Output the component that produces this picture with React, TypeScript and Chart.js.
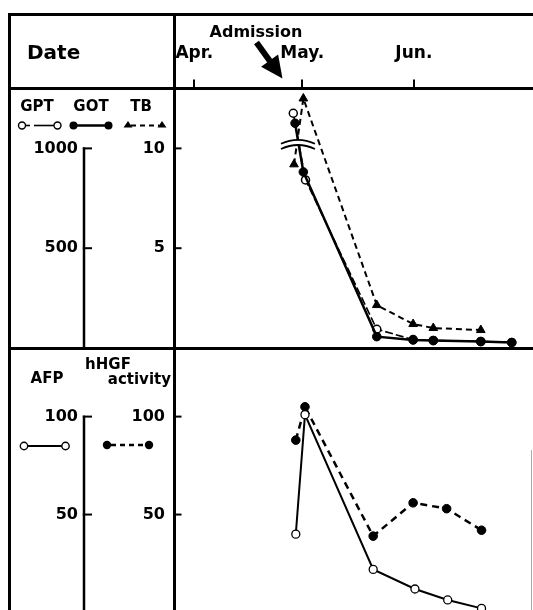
import React, { useEffect, useRef } from 'react';
import { Chart, registerables } from 'chart.js';
Chart.register(...registerables);

const FONT = '"DejaVu Sans", "Liberation Sans", sans-serif';

// x axis: days counted from Apr. 1
const monthLabels = ['Apr.', 'May.', 'Jun.'];
const monthDays = [0, 30, 61];
const xMin = -5.5;
const xMax = 94.1;
const admissionDay = 24.5;

// upper panel (GPT / GOT in IU, TB in mg/dl)
const gptDays = [27.5, 30.9, 50.7, 60.8, 66.4, 79.6, 88.2];
const gptValues = [1176, 842, 94, 42, 38, 33, 28];
const gotDays = [28, 30.3, 50.7, 60.8, 66.4, 79.6, 88.2];
const gotValues = [1126, 882, 57, 40, 37, 32, 27];
const tbDays = [27.7, 30.3, 50.7, 60.8, 66.4, 79.6];
const tbValues = [9.2, 12.5, 2.15, 1.2, 1.0, 0.9];
const gptTicks = [500, 1000];
const tbTicks = [5, 10];
const breakDay = 28.8;
const breakTbValue = 10.2;

// lower panel (AFP, hHGF activity)
const afpDays = [28.2, 30.75, 49.7, 61.3, 70.4, 79.8];
const afpValues = [40, 101, 22, 12, 6.4, 2.1];
const hgfDays = [28.2, 30.75, 49.7, 60.8, 70.1, 79.8];
const hgfValues = [88, 105, 39, 56, 53, 42];
const afpTicks = [50, 100];
const hgfTicks = [50, 100];

const xy = (days: number[], vals: number[]) => days.map((d, i) => ({ x: d, y: vals[i] }));

const tickFont = { family: FONT, size: 16, weight: 'bold' as const };

const noPad = (s: any) => {
  s.paddingTop = 0;
  s.paddingBottom = 0;
  s.paddingLeft = 0;
  s.paddingRight = 0;
};

const axisTicksPlugin = {
  id: 'axisTicks',
  afterDraw(chart: any, _args: any, opts: any) {
    const ctx = chart.ctx;
    const ca = chart.chartArea;
    const outer = chart.scales[opts.outer];
    const inner = chart.scales[opts.inner];
    ctx.save();
    ctx.strokeStyle = '#000';
    const x0 = outer.right;
    const topV = Math.max(...opts.outerTicks);
    ctx.lineWidth = 2.5;
    ctx.beginPath();
    ctx.moveTo(x0, outer.getPixelForValue(topV) - 1);
    ctx.lineTo(x0, chart.height);
    ctx.stroke();
    ctx.lineWidth = 2;
    opts.outerTicks.forEach((v: number) => {
      const y = outer.getPixelForValue(v);
      ctx.beginPath();
      ctx.moveTo(x0 - 1.2, y);
      ctx.lineTo(x0 + 8, y);
      ctx.stroke();
    });
    opts.innerTicks.forEach((v: number) => {
      const y = inner.getPixelForValue(v);
      ctx.beginPath();
      ctx.moveTo(ca.left, y);
      ctx.lineTo(ca.left + 7, y);
      ctx.stroke();
    });
    ctx.restore();
  },
};

const breakPlugin = {
  id: 'breakMark',
  afterDatasetsDraw(chart: any) {
    const ctx = chart.ctx;
    const x = chart.scales.x.getPixelForValue(breakDay);
    const y = chart.scales.tb.getPixelForValue(breakTbValue);
    const arc = (dy: number) => {
      ctx.beginPath();
      ctx.moveTo(x - 17, y + dy + 2);
      ctx.quadraticCurveTo(x, y + dy - 6, x + 17, y + dy + 2);
      ctx.stroke();
    };
    ctx.save();
    ctx.strokeStyle = '#fff';
    ctx.lineWidth = 4.5;
    arc(0);
    ctx.strokeStyle = '#000';
    ctx.lineWidth = 1.8;
    arc(-2.6);
    arc(2.6);
    ctx.restore();
  },
};

const arrowPlugin = {
  id: 'admissionArrow',
  afterDraw(chart: any) {
    const ctx = chart.ctx;
    const tx = chart.scales.x.getPixelForValue(admissionDay);
    const ty = chart.chartArea.top - 10;
    const sx = tx - 26;
    const sy = ty - 36;
    const len = Math.hypot(tx - sx, ty - sy);
    const ux = (tx - sx) / len;
    const uy = (ty - sy) / len;
    const headLen = 22;
    const half = 10.5;
    const bx = tx - ux * headLen;
    const by = ty - uy * headLen;
    ctx.save();
    ctx.strokeStyle = '#000';
    ctx.fillStyle = '#000';
    ctx.lineWidth = 6;
    ctx.beginPath();
    ctx.moveTo(sx, sy);
    ctx.lineTo(bx + ux * 2, by + uy * 2);
    ctx.stroke();
    ctx.beginPath();
    ctx.moveTo(tx, ty);
    ctx.lineTo(bx - uy * half, by + ux * half);
    ctx.lineTo(bx + uy * half, by - ux * half);
    ctx.closePath();
    ctx.fill();
    ctx.restore();
  },
};

const leftScale = (min: number, max: number, ticks: number[], width: number, weight: number, padding: number) => ({
  type: 'linear' as const,
  position: 'left' as const,
  weight,
  min,
  max,
  afterBuildTicks: (s: any) => {
    s.ticks = ticks.map((v) => ({ value: v }));
  },
  afterFit: (s: any) => {
    s.width = width;
    noPad(s);
  },
  ticks: { font: tickFont, color: '#000', padding, callback: (v: number) => String(v) },
  grid: { display: false, drawTicks: false, drawOnChartArea: false },
  border: { display: false },
});

function topConfig(): any {
  return {
    type: 'line',
    data: {
      datasets: [
        {
          label: 'GOT',
          data: xy(gotDays, gotValues),
          yAxisID: 'gpt',
          order: 0,
          borderColor: '#000',
          borderWidth: 2.5,
          pointStyle: 'circle',
          pointRadius: 4.3,
          pointBackgroundColor: '#000',
          pointBorderColor: '#000',
          pointBorderWidth: 1,
        },
        {
          label: 'GPT',
          data: xy(gptDays, gptValues),
          yAxisID: 'gpt',
          order: 1,
          borderColor: '#000',
          borderWidth: 1.6,
          borderDash: [8, 3],
          pointStyle: 'circle',
          pointRadius: 4,
          pointBackgroundColor: '#fff',
          pointBorderColor: '#000',
          pointBorderWidth: 1.5,
        },
        {
          label: 'TB',
          data: xy(tbDays, tbValues),
          yAxisID: 'tb',
          order: 2,
          borderColor: '#000',
          borderWidth: 2,
          borderDash: [6, 4],
          pointStyle: 'triangle',
          pointRadius: 5,
          pointBackgroundColor: '#000',
          pointBorderColor: '#000',
          pointBorderWidth: 1,
        },
      ],
    },
    options: {
      animation: false,
      responsive: false,
      maintainAspectRatio: false,
      layout: { autoPadding: false, padding: { left: 0, right: 0, top: 0, bottom: 1 } },
      plugins: {
        legend: { display: false },
        tooltip: { enabled: false },
        axisTicks: { outer: 'gpt', inner: 'tb', outerTicks: gptTicks, innerTicks: tbTicks },
      },
      scales: {
        x: {
          type: 'linear',
          position: 'top',
          min: xMin,
          max: xMax,
          afterBuildTicks: (s: any) => {
            s.ticks = monthDays.map((v) => ({ value: v }));
          },
          afterFit: (s: any) => {
            s.height = 75.5;
            noPad(s);
          },
          ticks: {
            callback: (v: number) => monthLabels[monthDays.indexOf(v)] ?? '',
            font: { family: FONT, size: 17, weight: 'bold' },
            color: '#000',
            padding: 16,
            maxRotation: 0,
            autoSkip: false,
          },
          grid: { drawOnChartArea: false, drawTicks: true, tickLength: 9, color: '#000', lineWidth: 2 },
          border: { display: false },
        },
        gpt: leftScale(0, 1300, gptTicks, 76, 2, 6),
        tb: leftScale(0, 13, tbTicks, 90.5, 1, 9.5),
      },
    },
    plugins: [axisTicksPlugin, breakPlugin, arrowPlugin],
  };
}

function bottomConfig(): any {
  return {
    type: 'line',
    data: {
      datasets: [
        {
          label: 'AFP',
          data: xy(afpDays, afpValues),
          yAxisID: 'afp',
          order: 0,
          borderColor: '#000',
          borderWidth: 2,
          pointStyle: 'circle',
          pointRadius: 4,
          pointBackgroundColor: '#fff',
          pointBorderColor: '#000',
          pointBorderWidth: 1.3,
        },
        {
          label: 'hHGF activity',
          data: xy(hgfDays, hgfValues),
          yAxisID: 'hgf',
          order: 1,
          borderColor: '#000',
          borderWidth: 2.5,
          borderDash: [7, 5],
          pointStyle: 'circle',
          pointRadius: 4.3,
          pointBackgroundColor: '#000',
          pointBorderColor: '#000',
          pointBorderWidth: 1,
        },
      ],
    },
    options: {
      animation: false,
      responsive: false,
      maintainAspectRatio: false,
      layout: { autoPadding: false, padding: { left: 0, right: 0, top: 2, bottom: 1.5 } },
      plugins: {
        legend: { display: false },
        tooltip: { enabled: false },
        axisTicks: { outer: 'afp', inner: 'hgf', outerTicks: afpTicks, innerTicks: hgfTicks },
      },
      scales: {
        x: { type: 'linear', display: false, min: xMin, max: xMax },
        afp: leftScale(0, 134, afpTicks, 76, 2, 6),
        hgf: leftScale(0, 134, hgfTicks, 90.5, 1, 9.5),
      },
    },
    plugins: [axisTicksPlugin],
  };
}

const line = (left: number, top: number, width: number, height: number, color = '#000'): React.CSSProperties => ({
  position: 'absolute',
  left,
  top,
  width,
  height,
  background: color,
  zIndex: 2,
});

const label = (left: number, cy: number, width: number, size: number, align: 'left' | 'center' | 'right' = 'center'): React.CSSProperties => ({
  position: 'absolute',
  left,
  top: cy - size / 2,
  width,
  height: size,
  lineHeight: `${size}px`,
  fontSize: size,
  fontFamily: FONT,
  fontWeight: 'bold',
  color: '#000',
  textAlign: align,
  whiteSpace: 'nowrap',
  zIndex: 3,
});

export default function App() {
  const topRef = useRef<HTMLCanvasElement>(null);
  const botRef = useRef<HTMLCanvasElement>(null);

  useEffect(() => {
    const top = new Chart(topRef.current as HTMLCanvasElement, topConfig());
    const bot = new Chart(botRef.current as HTMLCanvasElement, bottomConfig());
    return () => {
      top.destroy();
      bot.destroy();
    };
  }, []);

  return (
    <div style={{ position: 'fixed', left: 0, top: 0, width: 533, height: 610, overflow: 'hidden', background: '#fff' }}>
      <canvas ref={topRef} width={525} height={336} style={{ position: 'absolute', left: 8, top: 13, width: 525, height: 336 }} />
      <canvas ref={botRef} width={525} height={266} style={{ position: 'absolute', left: 8, top: 348, width: 525, height: 266 }} />

      {/* frame */}
      <div style={line(8, 13, 525, 2.5)} />
      <div style={line(8, 13, 2.5, 600)} />
      <div style={line(8, 87, 525, 3)} />
      <div style={line(8, 347, 525, 3)} />
      <div style={line(172.5, 13, 3, 600)} />
      <div style={line(531, 450, 1, 160, '#aaa')} />

      {/* header texts */}
      <div style={label(27, 51.5, 70, 20, 'left')}>Date</div>
      <div style={label(196, 32, 120, 16)}>Admission</div>

      {/* upper legend */}
      <div style={label(12, 106.5, 50, 15)}>GPT</div>
      <div style={label(66, 106.5, 50, 15)}>GOT</div>
      <div style={label(116, 106.5, 50, 15)}>TB</div>

      {/* lower legend */}
      <div style={label(22, 378, 50, 15)}>AFP</div>
      <div style={label(78, 364, 60, 15)}>hHGF</div>
      <div style={label(80, 379, 91, 15, 'right')}>activity</div>

      <svg width={175} height={610} style={{ position: 'absolute', left: 0, top: 0, zIndex: 3 }}>
        {/* GPT key */}
        <line x1={25.5} y1={125.5} x2={30} y2={125.5} stroke="#000" strokeWidth={1.6} />
        <line x1={34} y1={125.5} x2={54} y2={125.5} stroke="#000" strokeWidth={1.6} />
        <circle cx={22} cy={125.5} r={3.5} fill="#fff" stroke="#000" strokeWidth={1.4} />
        <circle cx={57.5} cy={125.5} r={3.5} fill="#fff" stroke="#000" strokeWidth={1.4} />
        {/* GOT key */}
        <line x1={73.5} y1={125.5} x2={108.5} y2={125.5} stroke="#000" strokeWidth={2.5} />
        <circle cx={73.5} cy={125.5} r={4} fill="#000" />
        <circle cx={108.5} cy={125.5} r={4} fill="#000" />
        {/* TB key */}
        <line x1={131} y1={125.5} x2={159} y2={125.5} stroke="#000" strokeWidth={2} strokeDasharray="5 4" />
        <polygon points="128,121 132.5,127.5 123.5,127.5" fill="#000" />
        <polygon points="162,121 166.5,127.5 157.5,127.5" fill="#000" />
        {/* AFP key */}
        <line x1={24} y1={446} x2={65.5} y2={446} stroke="#000" strokeWidth={2} />
        <circle cx={24} cy={446} r={3.7} fill="#fff" stroke="#000" strokeWidth={1.4} />
        <circle cx={65.5} cy={446} r={3.7} fill="#fff" stroke="#000" strokeWidth={1.4} />
        {/* hHGF key */}
        <line x1={111} y1={445} x2={146} y2={445} stroke="#000" strokeWidth={2.5} strokeDasharray="5 4" />
        <circle cx={107} cy={445} r={4.2} fill="#000" />
        <circle cx={149} cy={445} r={4.2} fill="#000" />
      </svg>
    </div>
  );
}
